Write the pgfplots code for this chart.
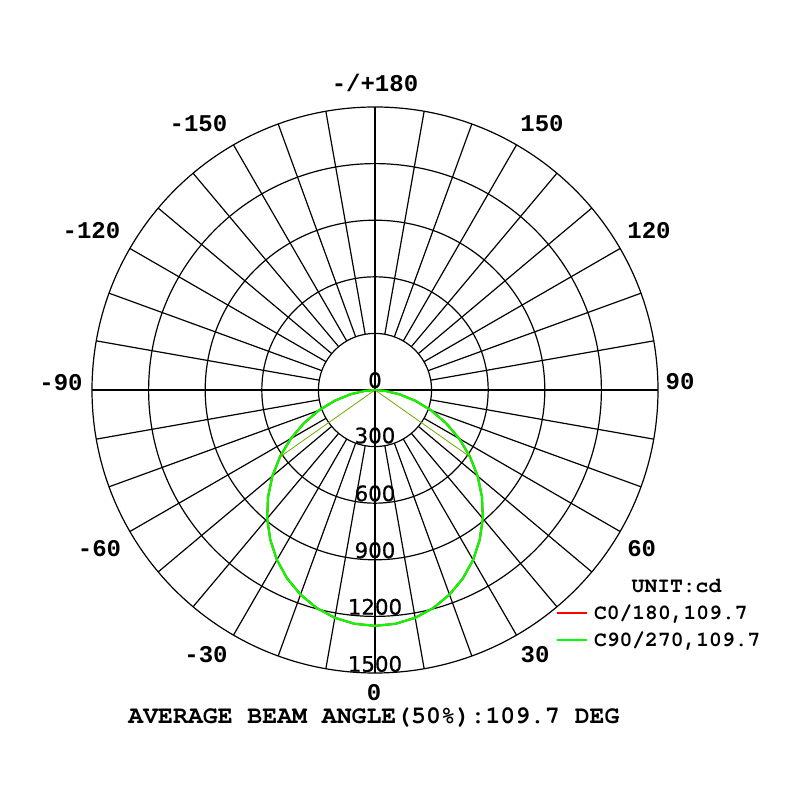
\documentclass[border=0pt]{standalone}
\usepackage{pgfplots}
\pgfplotsset{compat=1.18}
\usepackage{pgfplotstable}
\usepackage{fontspec}
\setmainfont{Liberation Mono}
\newfontfamily\ringfont[FakeBold=0.6]{DejaVu Sans}
\newfontfamily\cursor{TeX Gyre Cursor}

% luminous intensity (cd) against gamma angle, 0 = straight down
\pgfplotstableread{
a    r
-90  0
-85  55
-80  133
-75  222
-70  317
-65  415
-60  515
-55  614
-50  710
-45  802
-40  889
-35  968
-30  1040
-25  1102
-20  1154
-15  1196
-10  1226
-5   1244
0    1250
5    1244
10   1226
15   1196
20   1154
25   1102
30   1040
35   968
40   889
45   802
50   710
55   614
60   515
65   415
70   317
75   222
80   133
85   55
90   0
}\ldt

% half-intensity beam edges
\pgfplotstableread{
a      r
-54.85 618
0      0
54.85  618
}\beam

\definecolor{beamc}{RGB}{110,170,0}

\newcommand\ang{\bfseries\fontsize{18}{20}\selectfont}
\newcommand\rng{\ringfont\fontsize{16}{18}\selectfont}

\begin{document}
\begin{tikzpicture}
\begin{axis}[
  x=0.1415pt, y=0.1415pt,
  xmin=-1987.6, xmax=2252.7, ymin=-2173.2, ymax=2067.2,
  hide axis, clip=false,
  legend style={at={(axis cs:959.4,-1129)}, anchor=north west, draw=none, fill=none,
    inner sep=0pt, outer sep=0pt, row sep=5.25pt, column sep=5pt,
    font=\cursor\bfseries\fontsize{16}{18}\selectfont,
    nodes={inner sep=0pt, text height=12pt, text depth=3pt}},
  legend cell align=left,
  legend image code/.code={\draw[#1, line width=1pt] (0pt,0pt) -- (22.5pt,0pt);},
]
\coordinate (C) at (axis cs:0,0);
% rings
\pgfplotsinvokeforeach{300,600,900,1200,1500}{
  \draw[line width=0.9pt] (axis cs:0,0) circle[radius=#1];
}
% spokes every 10 deg (the four main axes are drawn in full below)
\pgfplotsinvokeforeach{-170,-160,...,-100,-80,-70,...,-10,10,20,...,80,100,110,...,170}{
  \draw[line width=0.9pt] (axis cs:{300*sin(#1)},{-300*cos(#1)}) -- (axis cs:{1500*sin(#1)},{-1500*cos(#1)});
}
\draw[line width=0.9pt] (axis cs:-1500,0) -- (axis cs:1500,0);
\draw[line width=0.9pt] (axis cs:0,-1500) -- (axis cs:0,1500);

\addplot[red, line width=1.6pt] table[x expr={\thisrow{r}*sin(\thisrow{a})}, y expr={-\thisrow{r}*cos(\thisrow{a})}] {\ldt};
\addlegendentry{C0/180,109.7}
\addplot[green, line width=1.6pt] table[x expr={\thisrow{r}*sin(\thisrow{a})}, y expr={-\thisrow{r}*cos(\thisrow{a})}] {\ldt};
\addlegendentry{C90/270,109.7}
\addplot[beamc, line width=0.6pt, forget plot] table[x expr={\thisrow{r}*sin(\thisrow{a})}, y expr={-\thisrow{r}*cos(\thisrow{a})}] {\beam};
\end{axis}

\begin{scope}[shift={(C)}, x=0.75pt, y=-0.75pt]
\path (-375,-390) rectangle (425,410);
% gamma angle labels
\node[anchor=base, font=\ang] at (0,-298) {-/+180};
\node[anchor=base, font=\ang] at (167,-258.5) {150};
\node[anchor=base, font=\ang] at (-176.5,-258.5) {-150};
\node[anchor=base, font=\ang] at (274,-151.7) {120};
\node[anchor=base, font=\ang] at (-283.5,-151.7) {-120};
\node[anchor=base, font=\ang] at (305,0) {90};
\node[anchor=base, font=\ang] at (-314,0.5) {-90};
\node[anchor=base, font=\ang] at (266.7,166.7) {60};
\node[anchor=base, font=\ang] at (-275.5,166.7) {-60};
\node[anchor=base, font=\ang] at (160,273) {30};
\node[anchor=base, font=\ang] at (-169,273) {-30};
\node[anchor=base, font=\ang] at (-1,310.5) {0};
% ring labels
\node[anchor=base, font=\rng] at (0,-2) {0};
\node[anchor=base, font=\rng] at (0,53.3) {300};
\node[anchor=base, font=\rng] at (0,111.2) {600};
\node[anchor=base, font=\rng] at (0,168) {900};
\node[anchor=base, font=\rng] at (0,224.6) {1200};
\node[anchor=base, font=\rng] at (0,281.7) {1500};
% unit and footer
\node[anchor=base, font=\cursor\bfseries\fontsize{16}{18}\selectfont] at (301.5,203) {UNIT:cd};
\node[anchor=base, font=\cursor\bfseries\fontsize{18.6}{20}\selectfont] at (-1,333.5) {AVERAGE BEAM ANGLE(50\%):109.7 DEG};
\end{scope}
\end{tikzpicture}
\end{document}
